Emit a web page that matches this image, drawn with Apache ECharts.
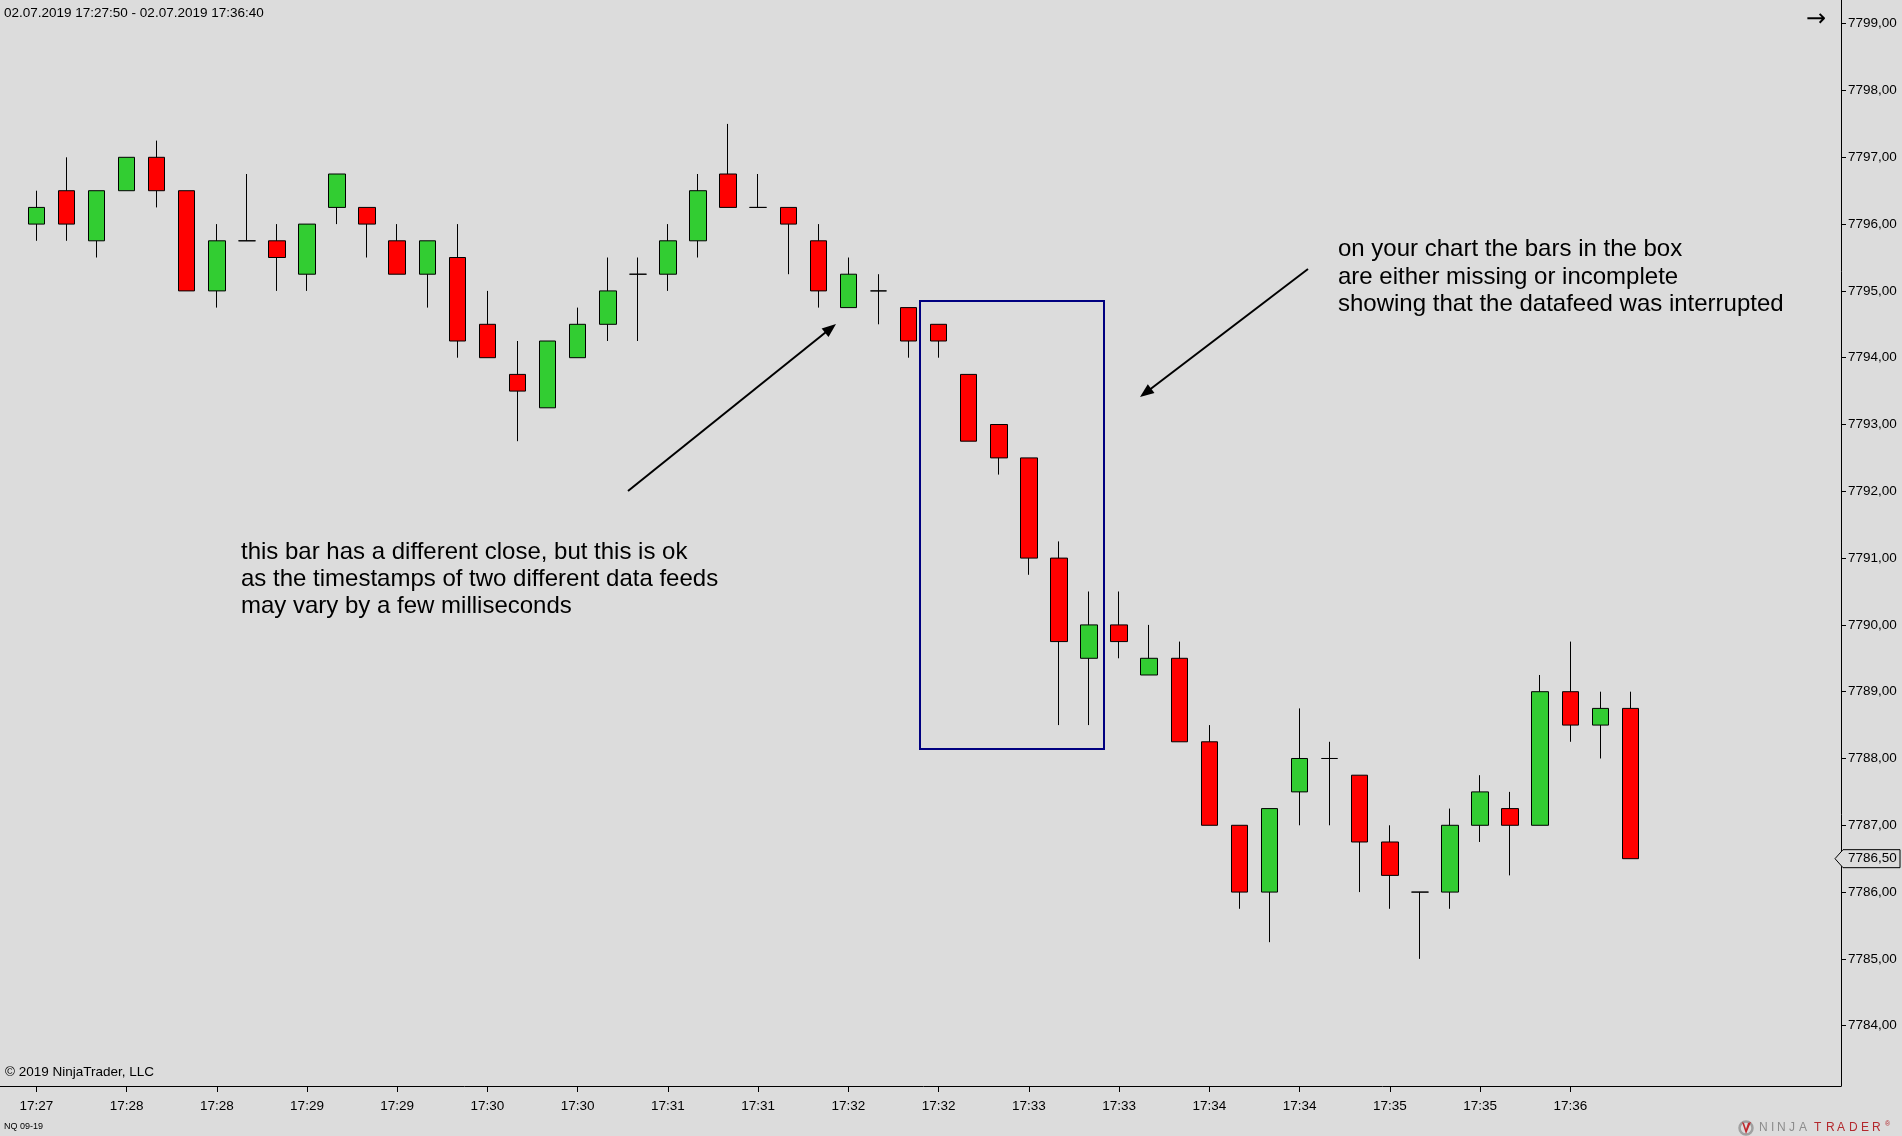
<!DOCTYPE html>
<html>
<head>
<meta charset="utf-8">
<title>NQ 09-19</title>
<script src="https://cdn.jsdelivr.net/npm/echarts@6/dist/echarts.min.js"></script>
<style>
  html, body { margin: 0; padding: 0; background: #dcdcdc; }
  #chart { width: 1902px; height: 1136px; }
</style>
</head>
<body>
<div id="chart"></div>
<script>
// 10 second bars, 02.07.2019 17:27:50 - 17:36:40
var barTimes = [
  '17:27:50', '17:28:00', '17:28:10', '17:28:20', '17:28:30', '17:28:40',
  '17:28:50', '17:29:00', '17:29:10', '17:29:20', '17:29:30', '17:29:40',
  '17:29:50', '17:30:00', '17:30:10', '17:30:20', '17:30:30', '17:30:40',
  '17:30:50', '17:31:00', '17:31:10', '17:31:20', '17:31:30', '17:31:40',
  '17:31:50', '17:32:00', '17:32:10', '17:32:20', '17:32:30', '17:32:40',
  '17:32:50', '17:33:00', '17:33:10', '17:33:20', '17:33:30', '17:33:40',
  '17:33:50', '17:34:00', '17:34:10', '17:34:20', '17:34:30', '17:34:40',
  '17:34:50', '17:35:00', '17:35:10', '17:35:20', '17:35:30', '17:35:40',
  '17:35:50', '17:36:00', '17:36:10', '17:36:20', '17:36:30', '17:36:40'
];
var opens = [
  7796, 7796.5, 7795.75, 7796.5, 7797, 7796.5, 7795, 7795.75, 7795.75, 7795.25,
  7796.25, 7796.25, 7795.75, 7795.25, 7795.5, 7794.5, 7793.75, 7793.25, 7794, 7794.5,
  7795.25, 7795.25, 7795.75, 7796.75, 7796.25, 7796.25, 7795.75, 7794.75, 7795, 7794.75,
  7794.5, 7793.75, 7793, 7792.5, 7791, 7789.5, 7790, 7789.25, 7789.5, 7788.25,
  7787, 7786, 7787.5, 7788, 7787.75, 7786.75, 7786, 7786, 7787, 7787.25,
  7787, 7789, 7788.5, 7788.75
];
var closes = [
  7796.25, 7796, 7796.5, 7797, 7796.5, 7795, 7795.75, 7795.75, 7795.5, 7796,
  7796.75, 7796, 7795.25, 7795.75, 7794.25, 7794, 7793.5, 7794.25, 7794.5, 7795,
  7795.25, 7795.75, 7796.5, 7796.25, 7796.25, 7796, 7795, 7795.25, 7795, 7794.25,
  7794.25, 7792.75, 7792.5, 7791, 7789.75, 7790, 7789.75, 7789.5, 7788.25, 7787,
  7786, 7787.25, 7788, 7788, 7786.75, 7786.25, 7786, 7787, 7787.5, 7787,
  7789, 7788.5, 7788.75, 7786.5
];
var lows = [
  7795.75, 7795.75, 7795.5, 7796.5, 7796.25, 7795, 7794.75, 7795.75, 7795, 7795,
  7796, 7795.5, 7795.25, 7794.75, 7794, 7794, 7792.75, 7793.25, 7794, 7794.25,
  7794.25, 7795, 7795.5, 7796.25, 7796.25, 7795.25, 7794.75, 7794.75, 7794.5, 7794,
  7794, 7792.75, 7792.25, 7790.75, 7788.5, 7788.5, 7789.5, 7789.25, 7788.25, 7787,
  7785.75, 7785.25, 7787, 7787, 7786, 7785.75, 7785, 7785.75, 7786.75, 7786.25,
  7787, 7788.25, 7788, 7786.5
];
var highs = [
  7796.5, 7797, 7796.5, 7797, 7797.25, 7796.5, 7796, 7796.75, 7796, 7796,
  7796.75, 7796.25, 7796, 7795.75, 7796, 7795, 7794.25, 7794.25, 7794.75, 7795.5,
  7795.5, 7796, 7796.75, 7797.5, 7796.75, 7796.25, 7796, 7795.5, 7795.25, 7794.75,
  7794.5, 7793.75, 7793, 7792.5, 7791.25, 7790.5, 7790.5, 7790, 7789.75, 7788.5,
  7787, 7787.25, 7788.75, 7788.25, 7787.75, 7787, 7786, 7787.25, 7787.75, 7787.5,
  7789.25, 7789.75, 7789, 7789
];
var priceTicks = [7784, 7785, 7786, 7787, 7788, 7789, 7790, 7791,
                  7792, 7793, 7794, 7795, 7796, 7797, 7798, 7799];

var FONT = '"Liberation Sans", Arial, sans-serif';
var chart = echarts.init(document.getElementById('chart'));

// one empty slot on the left, 7 empty slots on the right of the bars
var categories = [''].concat(barTimes, ['', '', '', '', '', '', '']);
var candles = [['-', '-', '-', '-']];
for (var i = 0; i < barTimes.length; i++) {
  candles.push([opens[i], closes[i], lows[i], highs[i]]);
}

function showTime(index) {
  return index >= 1 && index <= barTimes.length && (index - 1) % 3 === 0;
}
function fmtPrice(v) {
  return v.toFixed(2).replace('.', ',');
}

var option = {
  backgroundColor: '#dcdcdc',
  animation: false,
  grid: { left: 6.22, right: 61, top: 0, bottom: 50 },
  xAxis: {
    type: 'category',
    data: categories,
    boundaryGap: false,
    axisLine: { lineStyle: { color: '#000', width: 1 } },
    axisTick: { show: true, interval: showTime, length: 6, lineStyle: { color: '#000' } },
    axisLabel: {
      interval: showTime,
      hideOverlap: false,
      margin: 13,
      color: '#000',
      fontFamily: FONT,
      fontSize: 13.5,
      formatter: function (v) { return v.slice(0, 5); }
    },
    splitLine: { show: false }
  },
  yAxis: {
    type: 'value',
    position: 'right',
    scale: true,
    min: 7783.097,
    max: 7799.355,
    axisLine: { show: true, lineStyle: { color: '#000', width: 1 } },
    axisTick: { show: true, customValues: priceTicks, length: 5, lineStyle: { color: '#000' } },
    axisLabel: {
      customValues: priceTicks,
      margin: 7,
      color: '#000',
      fontFamily: FONT,
      fontSize: 13.5,
      formatter: fmtPrice
    },
    splitLine: { show: false }
  },
  series: [{
    type: 'candlestick',
    data: candles,
    barWidth: 17,
    clip: false,
    itemStyle: {
      color: '#32cd32',
      color0: '#ff0000',
      borderColor: '#000',
      borderColor0: '#000',
      borderColorDoji: '#000',
      borderWidth: 1
    }
  }]
};
chart.setOption(option);

function arrow(x1, y1, x2, y2) {
  var dx = x2 - x1, dy = y2 - y1;
  var len = Math.sqrt(dx * dx + dy * dy);
  var ux = dx / len, uy = dy / len;
  var L = 14, W = 5.5;
  var bx = x2 - ux * L, by = y2 - uy * L;
  return [
    { type: 'line', shape: { x1: x1, y1: y1, x2: bx + ux * 2, y2: by + uy * 2 },
      style: { stroke: '#000', lineWidth: 2 } },
    { type: 'polygon', shape: { points: [[x2, y2], [bx - uy * W, by + ux * W], [bx + uy * W, by - ux * W]] },
      style: { fill: '#000' } }
  ];
}

function txt(x, y, s, size, extra) {
  var st = { text: s, x: x, y: y, fill: '#000', font: size + 'px ' + FONT, verticalAlign: 'middle', align: 'left' };
  for (var k in extra) st[k] = extra[k];
  return { type: 'text', style: st, z: 10 };
}

var lastY = chart.convertToPixel({ yAxisIndex: 0 }, closes[closes.length - 1]);
var gfx = [
  // x axis line continues to the left edge
  { type: 'line', shape: { x1: 0, y1: 1086.5, x2: 7, y2: 1086.5 }, style: { stroke: '#000', lineWidth: 1 } },
  // box round the bars that are missing
  { type: 'rect', shape: { x: 920, y: 301, width: 184, height: 448 },
    style: { fill: 'none', stroke: '#000080', lineWidth: 2 } },
  txt(4, 13, '02.07.2019 17:27:50 - 02.07.2019 17:36:40', 13.5),
  txt(1806, 20, '\u2192', 24, { font: '24px "DejaVu Sans", sans-serif' }),
  txt(241, 552, 'this bar has a different close, but this is ok', 24),
  txt(241, 579, 'as the timestamps of two different data feeds', 24),
  txt(241, 606, 'may vary by a few milliseconds', 24),
  txt(1338, 249, 'on your chart the bars in the box', 24),
  txt(1338, 277, 'are either missing or incomplete', 24),
  txt(1338, 304, 'showing that the datafeed was interrupted', 24),
  txt(5, 1072, '\u00a9 2019 NinjaTrader, LLC', 13.5),
  txt(4, 1127, 'NQ 09-19', 9),
  // last price marker on the price axis
  { type: 'polygon', shape: { points: [[1835, lastY], [1843, lastY - 9], [1900, lastY - 9], [1900, lastY + 9], [1843, lastY + 9]] },
    style: { fill: '#dcdcdc', stroke: '#000', lineWidth: 1 }, z: 9 },
  txt(1848, lastY, fmtPrice(closes[closes.length - 1]), 13.5),
  // logo
  { type: 'circle', shape: { cx: 1746, cy: 1128, r: 6.5 }, style: { fill: 'none', stroke: '#a0a0a0', lineWidth: 2.5 } },
  { type: 'polygon', shape: { points: [[1742, 1122], [1746, 1134], [1751, 1122], [1748, 1123], [1746, 1129], [1744, 1123]] },
    style: { fill: '#c0282d' } }
];
gfx = gfx.concat(arrow(628, 491, 836, 324), arrow(1308, 269, 1140, 397));

var logo = 'NINJATRADER';
var logoX = [1759, 1771, 1777, 1789, 1799, 1814, 1826, 1837, 1849, 1861, 1872];
for (var j = 0; j < logo.length; j++) {
  gfx.push(txt(logoX[j], 1128, logo[j], 12, { fill: j < 5 ? '#8c8c8c' : '#b3282d' }));
}
gfx.push(txt(1885, 1124, '\u00ae', 7, { fill: '#b3282d' }));

chart.setOption({ graphic: gfx });
</script>
</body>
</html>
